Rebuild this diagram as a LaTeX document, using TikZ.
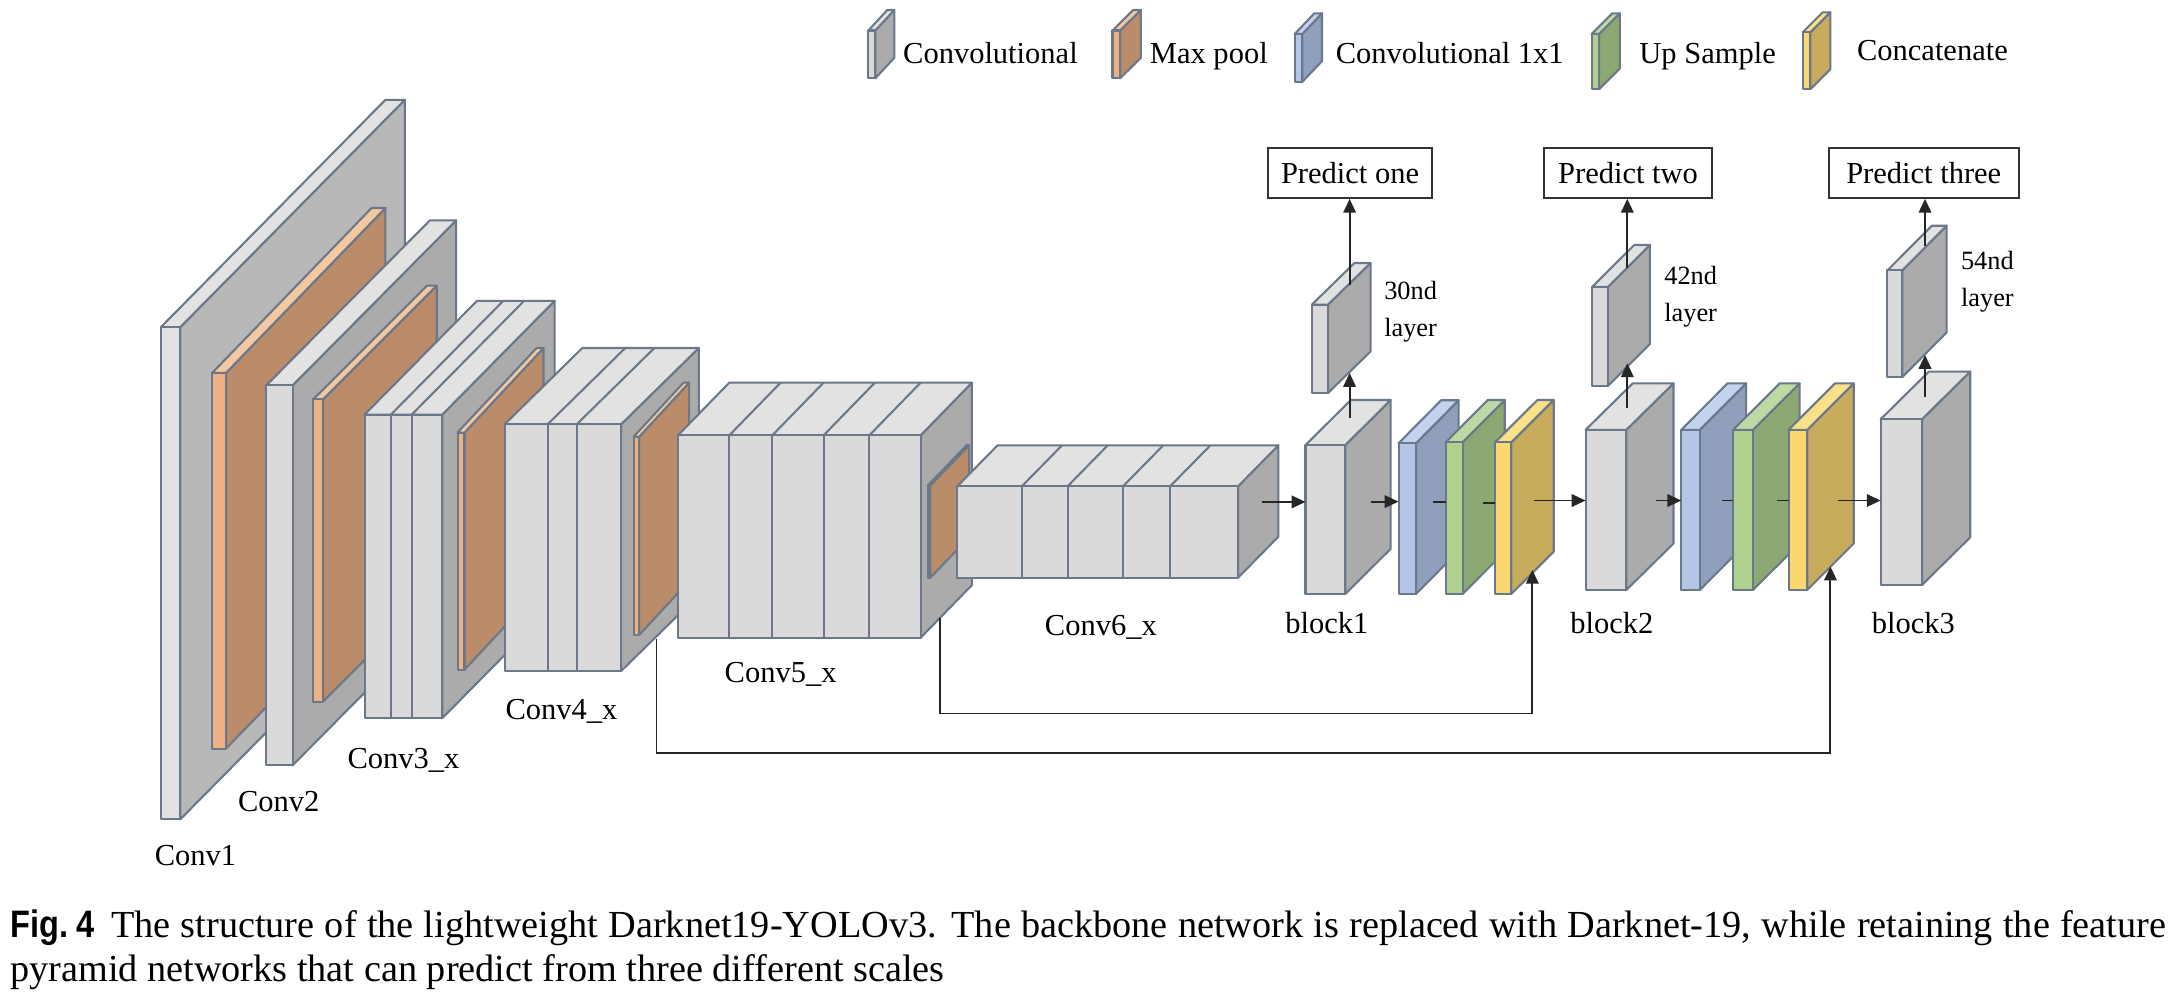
\documentclass[tikz,border=0pt]{standalone}
\usepackage{fontspec}
\usetikzlibrary{arrows.meta}
\setmainfont{Liberation Serif}
\newfontfamily\capsans[FakeStretch=0.85]{Liberation Sans}
\newfontfamily\capserif{Liberation Serif}
\definecolor{edge}{HTML}{6A7889}
\definecolor{gF}{HTML}{DADADA}
\definecolor{gT}{HTML}{E2E2E2}
\definecolor{gS}{HTML}{ABABAB}
\definecolor{gL}{HTML}{B8B8B8}
\definecolor{oF}{HTML}{EDB183}
\definecolor{oT}{HTML}{F4C9A0}
\definecolor{oS}{HTML}{BA8C6A}
\definecolor{bF}{HTML}{B4C6E7}
\definecolor{bT}{HTML}{C3D3EE}
\definecolor{bS}{HTML}{8F9FBC}
\definecolor{nF}{HTML}{B0D08E}
\definecolor{nT}{HTML}{BEDAA4}
\definecolor{nS}{HTML}{8CA873}
\definecolor{yF}{HTML}{FAD86F}
\definecolor{yT}{HTML}{FBE08A}
\definecolor{yS}{HTML}{C8AB5C}
\tikzset{
  x=0.5pt,y=-0.5pt,
  face/.style={draw=edge,line width=0.75pt,line join=round},
  lab/.style={inner sep=0pt,font=\fontsize{11}{13}\selectfont},
  small/.style={inner sep=0pt,font=\fontsize{9.5}{11.5}\selectfont,align=left},
  conn/.style={black!85,line width=0.7pt},
  arr/.style={conn,-{Triangle[length=5pt,width=4.5pt]}},
  pred/.style={draw=black!80,line width=0.7pt,fill=white,inner sep=0pt,minimum height=18pt,font=\fontsize{11}{13}\selectfont},
  captext/.style={inner sep=0pt,anchor=base west,font=\fontsize{13.8}{16}\selectfont\capserif}
}
% \cube{x0}{x1}{ytop}{ybot}{dx}{dy}{front}{top}{side}
\newcommand{\cube}[9]{%
  \def\Xa{#1}\def\Xb{#2}\def\Yt{#3}\def\Yb{#4}\def\Dx{#5}\def\Dy{#6}%
  \fill[#9,face] (#2,#3) -- ++(#5,-#6) -- ++(0,#4-#3) -- (#2,#4) -- cycle;
  \fill[#8,face] (#1,#3) -- ++(#5,-#6) -- ++(#2-#1,0) -- (#2,#3) -- cycle;
  \fill[#7,face] (#1,#3) rectangle (#2,#4);
}
\newcommand{\divs}[1]{%
  \foreach \q in {#1} {
    \draw[face] (\q,\Yt) -- (\q,\Yb);
    \draw[face] (\q,\Yt) -- ++(\Dx,-\Dy);
  }%
}
\begin{document}
\begin{tikzpicture}
\useasboundingbox (0,0) rectangle (1568,721.2);
% legend
\cube{626.3}{631.3}{22}{56.5}{13.7}{14.8}{gF}{gT}{gS}
\cube{802.4}{807.9}{22}{56.5}{14.9}{14.8}{oF}{oT}{oS}
\cube{933.8}{939.3}{24.5}{59}{14.2}{14.9}{bF}{bT}{bS}
\cube{1148}{1153.4}{24.5}{64.4}{14.9}{14.9}{nF}{nT}{nS}
\cube{1300.2}{1305.7}{23.3}{64.4}{14.4}{14.4}{yF}{yT}{yS}
\node[lab,anchor=base west] (lconv) at (651,46) {Convolutional};
\node[lab,anchor=base west] (lmax) at (829,46) {Max pool};
\node[lab,anchor=base west] (lone) at (963,46) {Convolutional 1x1};
\node[lab,anchor=base west] (lup) at (1182,46) {Up Sample};
\node[lab,anchor=base west] (lcat) at (1339,44) {Concatenate};
% backbone
\cube{116}{130}{236}{591}{162}{164}{gT}{gT}{gL}
\cube{153}{163}{269}{540}{115}{119}{oF}{oT}{oS}
\cube{192}{211}{278}{552}{118}{119}{gF}{gT}{gS}
\cube{226}{233}{288}{506}{82}{82}{oF}{oT}{oS}
\cube{263}{319}{299}{518}{81}{82}{gF}{gT}{gS}
\divs{282,297}
\cube{330}{335}{312}{483}{57}{61}{oF}{oT}{oS}
\cube{364}{448}{306}{484}{56}{55}{gF}{gT}{gS}
\divs{395,416}
\cube{457}{461}{315}{458}{36}{39}{oF}{oT}{oS}
\cube{489}{664}{314}{460}{37}{38}{gF}{gT}{gS}
\divs{526,557,594,627}
\cube{669.3}{671}{350}{416.6}{28}{29}{oF}{oT}{oS}
\cube{690.5}{893}{350.7}{416.6}{29}{29.5}{gF}{gT}{gS}
\divs{737,770,810,844}
% blocks
\cube{946.2}{957.8}{219.7}{283.5}{30.7}{30}{gF}{gT}{gS}
\cube{941.6}{970.3}{321}{428.4}{32.7}{32.5}{gF}{gT}{gS}
\cube{1008.7}{1021.3}{319.7}{428.4}{30.7}{31}{bF}{bT}{bS}
\cube{1042.7}{1054.9}{319}{428.4}{30.4}{30.5}{nF}{nT}{nS}
\cube{1078.3}{1090}{319}{428.4}{30.6}{30.5}{yF}{yT}{yS}
\cube{1148.3}{1159.6}{207}{278.4}{30.4}{30.3}{gF}{gT}{gS}
\cube{1143.6}{1173}{310}{425.5}{34}{33.5}{gF}{gT}{gS}
\cube{1212.6}{1226}{310}{425.5}{33.4}{33.5}{bF}{bT}{bS}
\cube{1250}{1264.3}{310}{425.5}{33.7}{33.5}{nF}{nT}{nS}
\cube{1290}{1303.5}{310}{425.5}{33.5}{33.5}{yF}{yT}{yS}
\cube{1361.3}{1372}{195}{272}{32}{32.2}{gF}{gT}{gS}
\cube{1356.4}{1386.2}{302.4}{422}{34.8}{34.4}{gF}{gT}{gS}
% predict boxes
\node[pred,minimum width=59.3pt] (p1) at (973.7,124.7) {Predict one};
\node[pred,minimum width=60.5pt] (p2) at (1174.2,124.7) {Predict two};
\node[pred,minimum width=68.5pt] (p3) at (1387.5,124.7) {Predict three};
% connector ends
\coordinate (a1) at (973.4,205.5);
\coordinate (a2) at (973.4,301.6);
\coordinate (a3) at (973.4,269);
\draw[arr] (a1) -- (a1 |- p1.south);
\draw[arr] (a2) -- (a3);
\coordinate (b1) at (1173.7,193.5);
\coordinate (b2) at (1173.7,294.5);
\coordinate (b3) at (1173.7,262);
\draw[arr] (b1) -- (b1 |- p2.south);
\draw[arr] (b2) -- (b3);
\coordinate (c1) at (1388.4,177.4);
\coordinate (c2) at (1388.4,286.5);
\coordinate (c3) at (1388.4,256);
\draw[arr] (c1) -- (c1 |- p3.south);
\draw[arr] (c2) -- (c3);
% horizontal
\coordinate (h1) at (910,362); \coordinate (h2) at (941.6,362);
\draw[arr] (h1) -- (h2);
\coordinate (h3) at (988.5,361.8); \coordinate (h4) at (1008.7,361.8);
\draw[arr] (h3) -- (h4);
\coordinate (s1) at (1033.5,361.8); \coordinate (s2) at (1042.7,361.8);
\draw[conn] (s1) -- (s2);
\coordinate (s3) at (1069.6,363); \coordinate (s4) at (1078.3,363);
\draw[conn] (s3) -- (s4);
\coordinate (h5) at (1106.3,361); \coordinate (h6) at (1143.6,361);
\draw[arr] (h5) -- (h6);
\coordinate (h7) at (1194.7,361); \coordinate (h8) at (1212.6,361);
\draw[arr] (h7) -- (h8);
\coordinate (s5) at (1242,361); \coordinate (s6) at (1250,361);
\draw[conn] (s5) -- (s6);
\coordinate (s7) at (1281.6,361); \coordinate (s8) at (1290,361);
\draw[conn] (s7) -- (s8);
\coordinate (h9) at (1325.5,361); \coordinate (h10) at (1356.4,361);
\draw[arr] (h9) -- (h10);
% skip connections
\coordinate (k1) at (677.7,446); \coordinate (k2) at (1105.2,411);
\draw[arr] (k1) |- (1105.2,514.6) -- (k2);
\coordinate (m1) at (473.5,460.6); \coordinate (m2) at (1320.2,408.6);
\draw[arr] (m1) |- (1320.2,543.3) -- (m2);
% labels
\node[lab,anchor=base] (t1) at (141,624) {Conv1};
\node[lab,anchor=base] (t2) at (201,585) {Conv2};
\node[lab,anchor=base] (t3) at (291,554) {Conv3\_x};
\node[lab,anchor=base] (t4) at (405,519) {Conv4\_x};
\node[lab,anchor=base] (t5) at (563,492) {Conv5\_x};
\node[lab,anchor=base] (t6) at (794,458) {Conv6\_x};
\node[lab,anchor=base] (t7) at (957,457) {block1};
\node[lab,anchor=base] (t8) at (1162.5,457) {block2};
\node[lab,anchor=base] (t9) at (1380,457) {block3};
\node[small,anchor=west] (u1) at (998,225) {30nd\\[2pt]layer};
\node[small,anchor=west] (u2) at (1200,214) {42nd\\[2pt]layer};
\node[small,anchor=west] (u3) at (1414,203) {54nd\\[2pt]layer};
% caption
\node[captext] (cap1) at (7,676)
 {\makebox[777.5pt][s]{{\capsans\bfseries Fig.\kern3pt 4}\kern6pt The structure of the lightweight Darknet19-YOLOv3. The backbone network is replaced with Darknet-19, while retaining the feature}};
\node[captext] (cap2) at (7,708)
 {pyramid networks that can predict from three different scales};
\end{tikzpicture}
\end{document}
